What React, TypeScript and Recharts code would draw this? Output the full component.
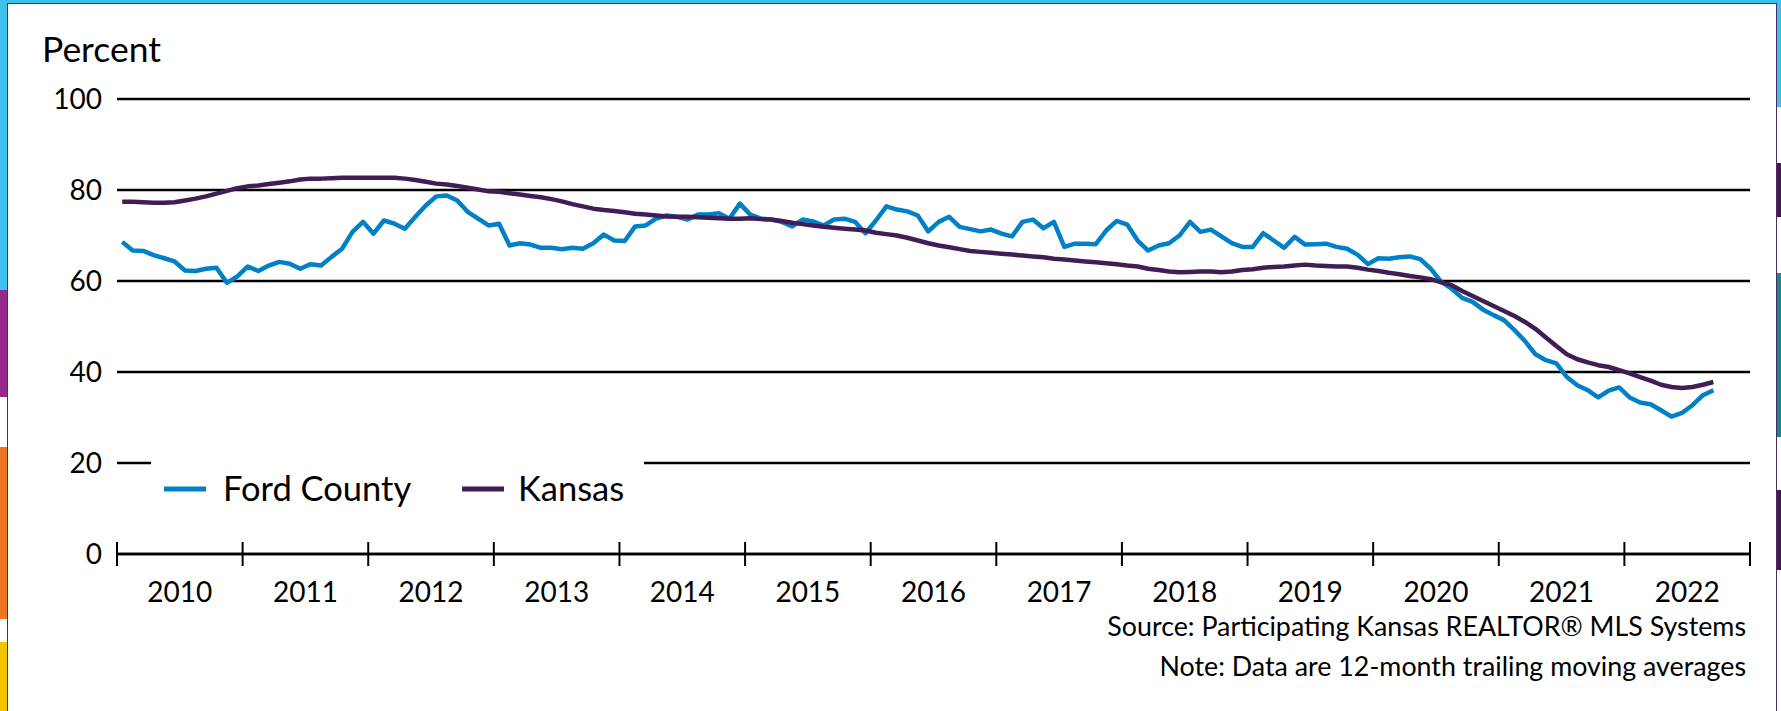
import { CartesianGrid, Legend, Line, LineChart, XAxis, YAxis } from "recharts";

// monthly values, Jan 2010 .. Sep 2022 (12-month trailing averages)
const startYear = 2010;
const yearTicks = [2010, 2011, 2012, 2013, 2014, 2015, 2016, 2017, 2018, 2019, 2020, 2021, 2022, 2023];
const percentTicks = [0, 20, 40, 60, 80, 100];

const fordCounty = [
  68.6, 66.7, 66.6, 65.7, 65.0, 64.3, 62.3, 62.2, 62.7, 62.9, 59.6, 61.0,
  63.2, 62.2, 63.4, 64.2, 63.8, 62.7, 63.7, 63.4, 65.3, 67.1, 70.8, 73.0,
  70.4, 73.3, 72.6, 71.5, 74.1, 76.6, 78.6, 78.8, 77.7, 75.2, 73.7, 72.2,
  72.6, 67.8, 68.3, 68.0, 67.3, 67.3, 67.0, 67.3, 67.1, 68.3, 70.2, 68.9,
  68.8, 72.0, 72.2, 73.7, 74.4, 74.1, 73.5, 74.6, 74.6, 74.9, 73.7, 77.0,
  74.6, 73.7, 73.5, 73.0, 72.0, 73.5, 73.1, 72.2, 73.5, 73.7, 73.0, 70.5,
  73.3, 76.4, 75.7, 75.3, 74.4, 70.9, 73.0, 74.1, 71.9, 71.4, 70.9, 71.3,
  70.4, 69.8, 73.0, 73.5, 71.6, 73.0, 67.5, 68.2, 68.2, 68.1, 71.1, 73.2,
  72.4, 68.9, 66.7, 67.8, 68.3, 70.0, 73.0, 70.8, 71.3, 69.8, 68.3, 67.5,
  67.5, 70.5, 68.9, 67.3, 69.7, 68.0, 68.1, 68.2, 67.5, 67.1, 65.8, 63.7,
  65.0, 64.9, 65.2, 65.4, 64.8, 62.7, 59.8, 58.3, 56.3, 55.4, 53.7, 52.5,
  51.4, 49.2, 46.8, 43.9, 42.6, 41.9, 38.9, 37.1, 36.0, 34.4, 35.9, 36.6,
  34.4, 33.3, 32.9, 31.6, 30.2, 31.0, 32.7, 34.9, 36.0
];

const kansas = [
  77.4, 77.4, 77.3, 77.2, 77.2, 77.3, 77.7, 78.1, 78.6, 79.2, 79.8, 80.4,
  80.8, 81.0, 81.3, 81.6, 81.9, 82.3, 82.5, 82.5, 82.6, 82.7, 82.7, 82.7,
  82.7, 82.7, 82.7, 82.5, 82.2, 81.8, 81.4, 81.2, 80.9, 80.5, 80.1, 79.7,
  79.6, 79.3, 79.0, 78.7, 78.4, 78.0, 77.5, 76.9, 76.4, 75.9, 75.6, 75.4,
  75.1, 74.8, 74.6, 74.4, 74.2, 74.1, 74.1, 74.0, 73.9, 73.8, 73.7, 73.7,
  73.8, 73.6, 73.5, 73.2, 72.8, 72.5, 72.2, 71.9, 71.7, 71.5, 71.3, 71.1,
  70.6, 70.3, 70.0, 69.5, 68.9, 68.3, 67.8, 67.4, 67.0, 66.6, 66.4, 66.2,
  66.0, 65.8, 65.6, 65.4, 65.2, 64.9, 64.7, 64.5, 64.3, 64.1, 63.9, 63.7,
  63.4, 63.2, 62.7, 62.4, 62.1, 61.9, 62.0, 62.1, 62.1, 61.9, 62.1, 62.4,
  62.6, 62.9, 63.1, 63.2, 63.4, 63.6, 63.4, 63.3, 63.2, 63.2, 62.9, 62.5,
  62.2, 61.8, 61.5, 61.1, 60.8, 60.4, 59.7, 59.1, 57.8, 56.7, 55.6, 54.5,
  53.4, 52.3, 51.0, 49.5, 47.6, 45.7, 43.9, 42.8, 42.1, 41.5, 41.1, 40.4,
  39.7, 38.9, 38.1, 37.2, 36.7, 36.5, 36.7, 37.2, 37.8
];

const seriesNames = ["Ford County", "Kansas"];
const seriesColors = ["#0080C6", "#411D55"];
const sourceText = "Source: Participating Kansas REALTOR® MLS Systems";
const noteText = "Note: Data are 12-month trailing moving averages";

const W = 1781;
const H = 711;
const FONT = "Lato, 'Open Sans', sans-serif";
const margin = { top: 99, right: 31, bottom: 117, left: 0 };
const Y_AXIS_W = 117;
const yearPx = (W - margin.left - margin.right - Y_AXIS_W) / (yearTicks.length - 1);

const chartData = fordCounty.map((value, i) => ({
  t: startYear + (i + 0.5) / 12,
  ford: value,
  kansas: kansas[i]
}));

// side decorations of the slide
const leftStrip = [
  { top: 0, height: 290, color: "#3EC1EF" },
  { top: 290, height: 107, color: "#952A8C" },
  { top: 397, height: 50, color: "#ffffff" },
  { top: 447, height: 172, color: "#EE7623" },
  { top: 619, height: 23, color: "#ffffff" },
  { top: 642, height: 69, color: "#F5C400" }
];
const rightStrip = [
  { top: 0, height: 107, color: "#3EC1EF" },
  { top: 107, height: 56, color: "#ffffff" },
  { top: 163, height: 54, color: "#45194F" },
  { top: 217, height: 56, color: "#ffffff" },
  { top: 273, height: 164, color: "#138A8C" },
  { top: 437, height: 53, color: "#ffffff" },
  { top: 490, height: 80, color: "#45194F" },
  { top: 570, height: 141, color: "#ffffff" }
];

function YearTick(props: any) {
  const { x, y, payload } = props;
  const isLast = payload.value === yearTicks[yearTicks.length - 1];
  return (
    <g>
      <line x1={x} x2={x} y1={y - 12} y2={y + 12} stroke="#000" strokeWidth={2} />
      {!isLast && (
        <text x={x + yearPx / 2} y={y + 48} textAnchor="middle" fontSize={28} fill="#000" fontFamily={FONT}>
          {payload.value}
        </text>
      )}
    </g>
  );
}

const legendOffsets = [
  { line: 13, text: 72 },
  { line: 311, text: 367 }
];

function LegendBox(props: any) {
  const items = props.payload || [];
  return (
    <svg width={493} height={60} style={{ display: "block" }}>
      {items.map((item: any, i: number) => (
        <g key={item.value}>
          <line
            x1={legendOffsets[i].line}
            x2={legendOffsets[i].line + 42}
            y1={34}
            y2={34}
            stroke={item.color}
            strokeWidth={5}
          />
          <text x={legendOffsets[i].text} y={46} fontSize={34.5} fill="#000" fontFamily={FONT}>
            {item.value}
          </text>
        </g>
      ))}
    </svg>
  );
}

export default function App() {
  return (
    <div
      style={{
        position: "absolute",
        left: 0,
        top: 0,
        width: W,
        height: H,
        overflow: "hidden",
        background: "#3EC1EF",
        fontFamily: FONT
      }}
    >
      {leftStrip.map((s) => (
        <div key={"l" + s.top} style={{ position: "absolute", left: 0, top: s.top, width: 8, height: s.height, background: s.color }} />
      ))}
      {rightStrip.map((s) => (
        <div key={"r" + s.top} style={{ position: "absolute", left: 1776, top: s.top, width: 5, height: s.height, background: s.color }} />
      ))}
      <div
        style={{
          position: "absolute",
          left: 7,
          top: 3,
          width: 1768,
          height: 710,
          background: "#fff",
          borderLeft: "1.5px solid #4B2A5C",
          borderTop: "1.5px solid #4B2A5C",
          borderRight: "1.5px solid #4B2A5C"
        }}
      />
      <div style={{ position: "absolute", left: 0, top: 0 }}>
        <LineChart width={W} height={H} data={chartData} margin={margin}>
          <CartesianGrid vertical={false} stroke="#000" strokeWidth={2.5} />
          <XAxis
            type="number"
            dataKey="t"
            domain={[yearTicks[0], yearTicks[yearTicks.length - 1]]}
            ticks={yearTicks}
            interval={0}
            allowDataOverflow
            height={40}
            axisLine={{ stroke: "#000", strokeWidth: 2.5 }}
            tickLine={false}
            tickSize={0}
            tickMargin={0}
            tick={(p: any) => <YearTick {...p} />}
          />
          <YAxis
            type="number"
            domain={[0, 100]}
            ticks={percentTicks}
            interval={0}
            width={Y_AXIS_W}
            axisLine={false}
            tickLine={false}
            tickSize={0}
            tickMargin={15}
            tick={{ fontSize: 28, fill: "#000", fontFamily: FONT }}
          />
          <Legend
            layout="horizontal"
            verticalAlign="middle"
            align="center"
            wrapperStyle={{ left: 151, top: 455, width: 493, height: 60, background: "#fff" }}
            content={(p: any) => <LegendBox {...p} />}
          />
          <Line
            type="linear"
            dataKey="ford"
            name={seriesNames[0]}
            stroke={seriesColors[0]}
            strokeWidth={4.5}
            strokeLinejoin="round"
            dot={false}
            activeDot={false}
            isAnimationActive={false}
          />
          <Line
            type="linear"
            dataKey="kansas"
            name={seriesNames[1]}
            stroke={seriesColors[1]}
            strokeWidth={4.5}
            strokeLinejoin="round"
            dot={false}
            activeDot={false}
            isAnimationActive={false}
          />
        </LineChart>
      </div>
      <svg width={W} height={H} style={{ position: "absolute", left: 0, top: 0, pointerEvents: "none" }}>
        <text x={42} y={62} fontSize={35.5} fill="#000" fontFamily={FONT}>
          Percent
        </text>
        <text x={1746} y={636} textAnchor="end" fontSize={26.8} fill="#000" fontFamily={FONT}>
          {sourceText}
        </text>
        <text x={1746} y={676} textAnchor="end" fontSize={26.8} fill="#000" fontFamily={FONT}>
          {noteText}
        </text>
      </svg>
    </div>
  );
}
